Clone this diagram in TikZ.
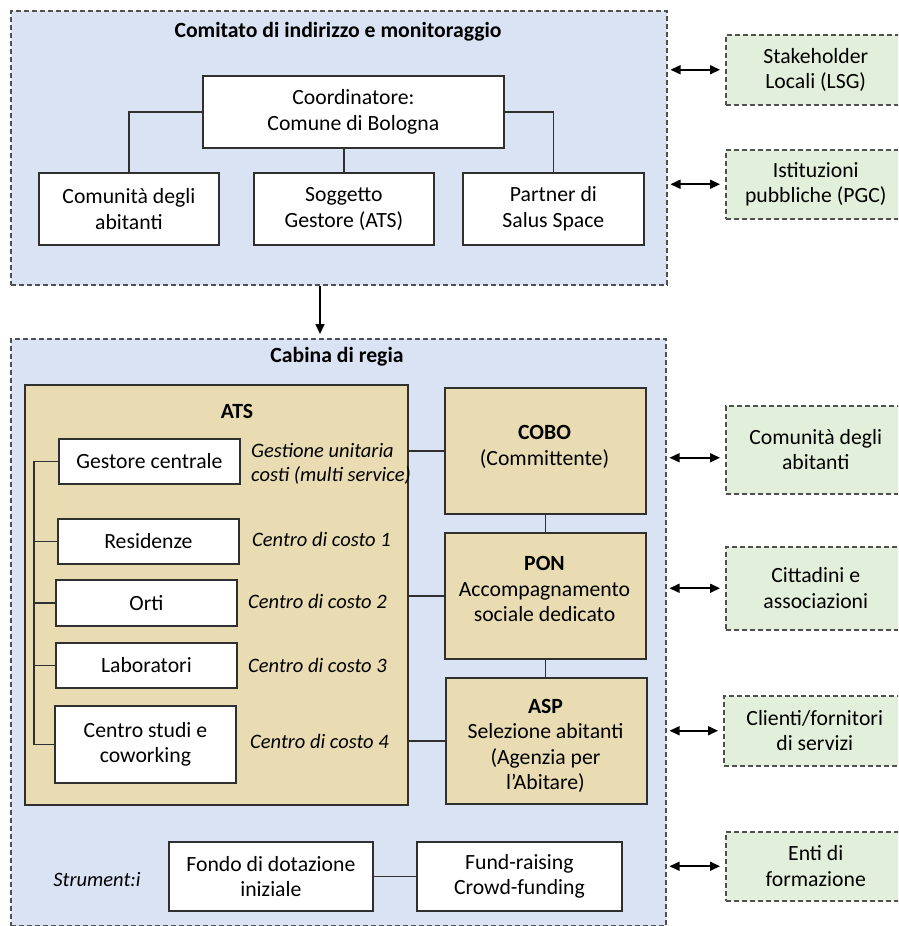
\documentclass[tikz,border=0pt]{standalone}
\usepackage{fontspec}
\setmainfont{Carlito}
\usetikzlibrary{arrows.meta}
\definecolor{bluebg}{HTML}{DAE3F3}
\definecolor{tanbg}{HTML}{E9DCB2}
\definecolor{greenbg}{HTML}{E2EFDA}
\definecolor{edgec}{HTML}{303030}
\definecolor{dashc}{HTML}{505050}
\begin{document}
\begin{tikzpicture}[x=1pt,y=-1pt,
  txt/.style={font=\fontsize{21.7}{25.5}\selectfont, text=black},
  bx/.style={draw=edgec, line width=1.8pt, inner sep=0pt, anchor=north west, align=center, txt},
  wbox/.style={bx, fill=white},
  tbox/.style={bx, fill=tanbg},
  dbox/.style={draw=dashc, line width=1.5pt, dash pattern=on 5pt off 3pt, anchor=north west, inner sep=0pt, align=center, txt},
  gbox/.style={dbox, fill=greenbg},
  ttl/.style={txt, font=\fontsize{21.7}{25.5}\selectfont\bfseries, inner sep=0pt},
  itl/.style={font=\fontsize{20.5}{24.5}\selectfont\itshape, text=black, inner sep=0pt, align=left},
  plain/.style={txt, inner sep=0pt, align=center},
  conn/.style={draw=edgec, line width=1.8pt},
  biarrow/.style={{Triangle[length=10pt,width=9pt]}-{Triangle[length=10pt,width=9pt]}, line width=1.6pt, black, shorten <=3pt, shorten >=5pt},
  onearrow/.style={-{Triangle[length=10pt,width=9pt]}, line width=1.6pt, black, shorten >=4pt}
]
\useasboundingbox (0,0) rectangle (898,926);
\clip (0,0) rectangle (898,926);
\fill[white] (0,0) rectangle (898,926);

% --- Comitato ---
\node[dbox, fill=bluebg, minimum width=656, minimum height=274] (cim) at (10,10) {};
\node[ttl] (cimt) at (338,32) {Comitato di indirizzo e monitoraggio};
\node[wbox, minimum width=301, minimum height=72] (coord) at (202,75) {Coordinatore:\\Comune di Bologna};
\node[wbox, minimum width=180, minimum height=72] (comm) at (38,172) {Comunità degli\\abitanti};
\node[wbox, minimum width=180, minimum height=72] (sogg) at (253,172) {Soggetto\\Gestore (ATS)};
\node[wbox, minimum width=181, minimum height=72] (part) at (462,172) {Partner di\\Salus Space};
\draw[conn] (coord.west) -| (comm.north);
\draw[conn] (sogg.north) -- (sogg.north |- coord.south);
\draw[conn] (coord.east) -| (part.north);

% --- right stakeholders top ---
\node[gbox, minimum width=180, minimum height=70] (lsg) at (725,34) {Stakeholder\\Locali (LSG)};
\node[gbox, minimum width=180, minimum height=69] (pgc) at (725,149) {Istituzioni\\pubbliche (PGC)};
\draw[biarrow] (cim.east |- lsg.west) -- (lsg.west);
\draw[biarrow] (cim.east |- pgc.west) -- (pgc.west);

% --- Cabina di regia ---
\node[dbox, fill=bluebg, minimum width=655, minimum height=587] (cab) at (10,338) {};
\node[ttl] (cabt) at (337,357) {Cabina di regia};
\coordinate (ax) at (320,0);
\draw[onearrow] (cim.south -| ax) -- (cab.north -| ax);

% ATS
\node[tbox, minimum width=383, minimum height=420] (ats) at (24,384) {};
\node[ttl] (atst) at (237,411) {ATS};
\node[wbox, minimum width=181, minimum height=45] (gest) at (58,438) {Gestore centrale};
\node[wbox, minimum width=181, minimum height=45] (res) at (57,518) {Residenze};
\node[wbox, minimum width=181, minimum height=46] (orti) at (55,579) {Orti};
\node[wbox, minimum width=181, minimum height=45] (lab) at (55,642) {Laboratori};
\node[wbox, minimum width=181, minimum height=77] (cs) at (54,705) {Centro studi e\\coworking};
\coordinate (br) at (34,0);
\draw[conn] (gest.west) -- (gest.west -| br) -- (cs.west -| br) -- (cs.west);
\draw[conn] (res.west) -- (res.west -| br);
\draw[conn] (orti.west) -- (orti.west -| br);
\draw[conn] (lab.west) -- (lab.west -| br);

\node[itl, anchor=west] (l0) at (251,464) {Gestione unitaria\\costi (multi service)};
\node[itl, anchor=west] (l1) at (252,539) {Centro di costo 1};
\node[itl, anchor=west] (l2) at (248,601) {Centro di costo 2};
\node[itl, anchor=west] (l3) at (248,665) {Centro di costo 3};
\node[itl, anchor=west] (l4) at (250,741) {Centro di costo 4};

% COBO, PON, ASP
\node[tbox, minimum width=201, minimum height=126] (cobo) at (444,387) {};
\node[tbox, minimum width=201, minimum height=126] (pon) at (444,532) {};
\node[tbox, minimum width=201, minimum height=126] (asp) at (445,677) {};
\node[plain] (cobot) at (544.5,447) {\textbf{COBO}\\(Committente)};
\node[plain] (pont) at (544.5,589) {\textbf{PON}\\Accompagnamento\\sociale dedicato};
\node[plain] (aspt) at (545.5,746) {\textbf{ASP}\\Selezione abitanti\\(Agenzia per\\l’Abitare)};
\draw[conn] (ats.east |- cobo.west) -- (cobo.west);
\draw[conn] (ats.east |- pon.west) -- (pon.west);
\draw[conn] (ats.east |- asp.west) -- (asp.west);
\draw[conn] (cobo.south) -- (pon.north);
\draw[conn] (pon.south) -- (pon.south |- asp.north);

% right stakeholders bottom
\node[gbox, minimum width=180, minimum height=88] (comm2) at (725,405) {Comunità degli\\abitanti};
\node[gbox, minimum width=180, minimum height=83] (citt) at (725,546) {Cittadini e\\associazioni};
\node[gbox, minimum width=182, minimum height=70] (cli) at (723,695) {Clienti/fornitori\\di servizi};
\node[gbox, minimum width=180, minimum height=69] (enti) at (725,831) {Enti di\\formazione};
\coordinate (c2a) at ([yshift=-8pt]comm2.west);
\draw[biarrow] (cab.east |- c2a) -- (c2a);
\draw[biarrow] (cab.east |- citt.west) -- (citt.west);
\draw[biarrow] (cab.east |- cli.west) -- (cli.west);
\draw[biarrow] (cab.east |- enti.west) -- (enti.west);

% Strumenti
\node[itl] (strum) at (97,880) {Strument:i};
\node[wbox, minimum width=204, minimum height=69] (fondo) at (168,841) {Fondo di dotazione\\iniziale};
\node[wbox, minimum width=205, minimum height=69] (fund) at (416,841) {Fund-raising\\Crowd-funding};
\draw[conn] (fondo.east) -- (fund.west);
\end{tikzpicture}
\end{document}
